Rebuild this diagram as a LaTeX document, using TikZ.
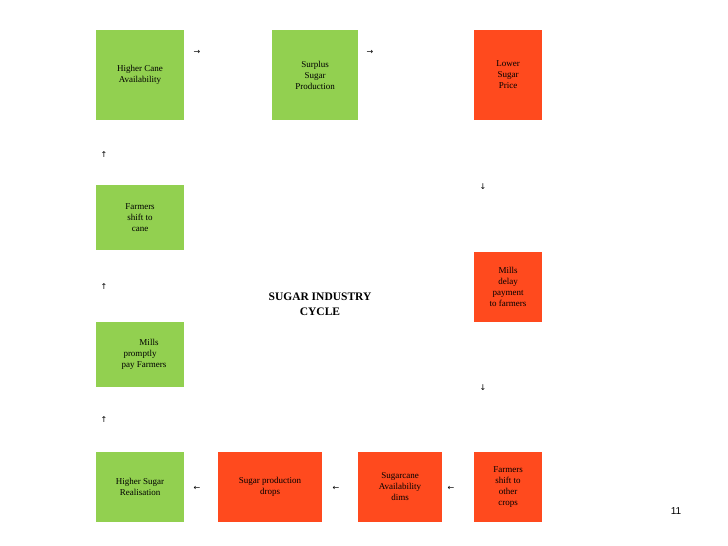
\documentclass[tikz,border=0pt]{standalone}
\usepackage{fontspec}
\setmainfont{Liberation Serif}
\newfontfamily\symf{DejaVu Sans}
\newfontfamily\sansf{Liberation Sans}
\definecolor{gbox}{HTML}{92D050}
\definecolor{rbox}{HTML}{FF4A1E}
\begin{document}
\begin{tikzpicture}[x=1pt,y=-1pt,
  boxg/.style={fill=gbox,draw=none,align=center,font=\fontsize{9}{11}\selectfont,inner sep=1pt},
  boxr/.style={boxg,fill=rbox},
  arr/.style={font=\symf\fontsize{8}{8}\selectfont,inner sep=0pt}]
\useasboundingbox (0,0) rectangle (728,546);
\node[boxg,minimum width=88,minimum height=90] (a) at (140,75) {Higher Cane\\Availability};
\node[boxg,minimum width=86,minimum height=90] (b) at (315,75) {Surplus\\Sugar\\Production};
\node[boxr,minimum width=68,minimum height=90] (c) at (508,75) {Lower\\Sugar\\Price};
\node[boxg,minimum width=88,minimum height=65] (d) at (140,217.5) {Farmers\\shift to\\cane};
\node[boxr,minimum width=68,minimum height=70] (e) at (508,287) {Mills\\delay\\payment\\to farmers};
\node[boxg,minimum width=88,minimum height=65] (f) at (140,354.5) {\hspace*{18pt}Mills\\promptly\hspace*{26pt}\\\hspace*{8pt}pay Farmers};
\node[boxg,minimum width=88,minimum height=70] (g) at (140,487) {Higher Sugar\\Realisation};
\node[boxr,minimum width=104,minimum height=70] (h) at (270,487) {Sugar production\\drops};
\node[boxr,minimum width=84,minimum height=70] (i) at (400,487) {Sugarcane\\Availability\\dims};
\node[boxr,minimum width=68,minimum height=70] (j) at (508,487) {Farmers\\shift to\\other\\crops};
\node[arr] (a1) at (197,52) {→};
\node[arr] (a2) at (370,52) {→};
\node[arr] (a3) at (104,155) {↑};
\node[arr] (a4) at (483,187) {↓};
\node[arr] (a5) at (104,287) {↑};
\node[arr] (a6) at (483,388) {↓};
\node[arr] (a7) at (104,420) {↑};
\node[arr] (a8) at (197,488) {←};
\node[arr] (a9) at (336,488) {←};
\node[arr] (a10) at (451,488) {←};
\node[align=center,font=\bfseries\fontsize{11.5}{15}\selectfont] (t) at (320,304) {SUGAR INDUSTRY\\CYCLE};
\node[font=\sansf\fontsize{10}{10}\selectfont] (n) at (676,511) {11};
\end{tikzpicture}
\end{document}
